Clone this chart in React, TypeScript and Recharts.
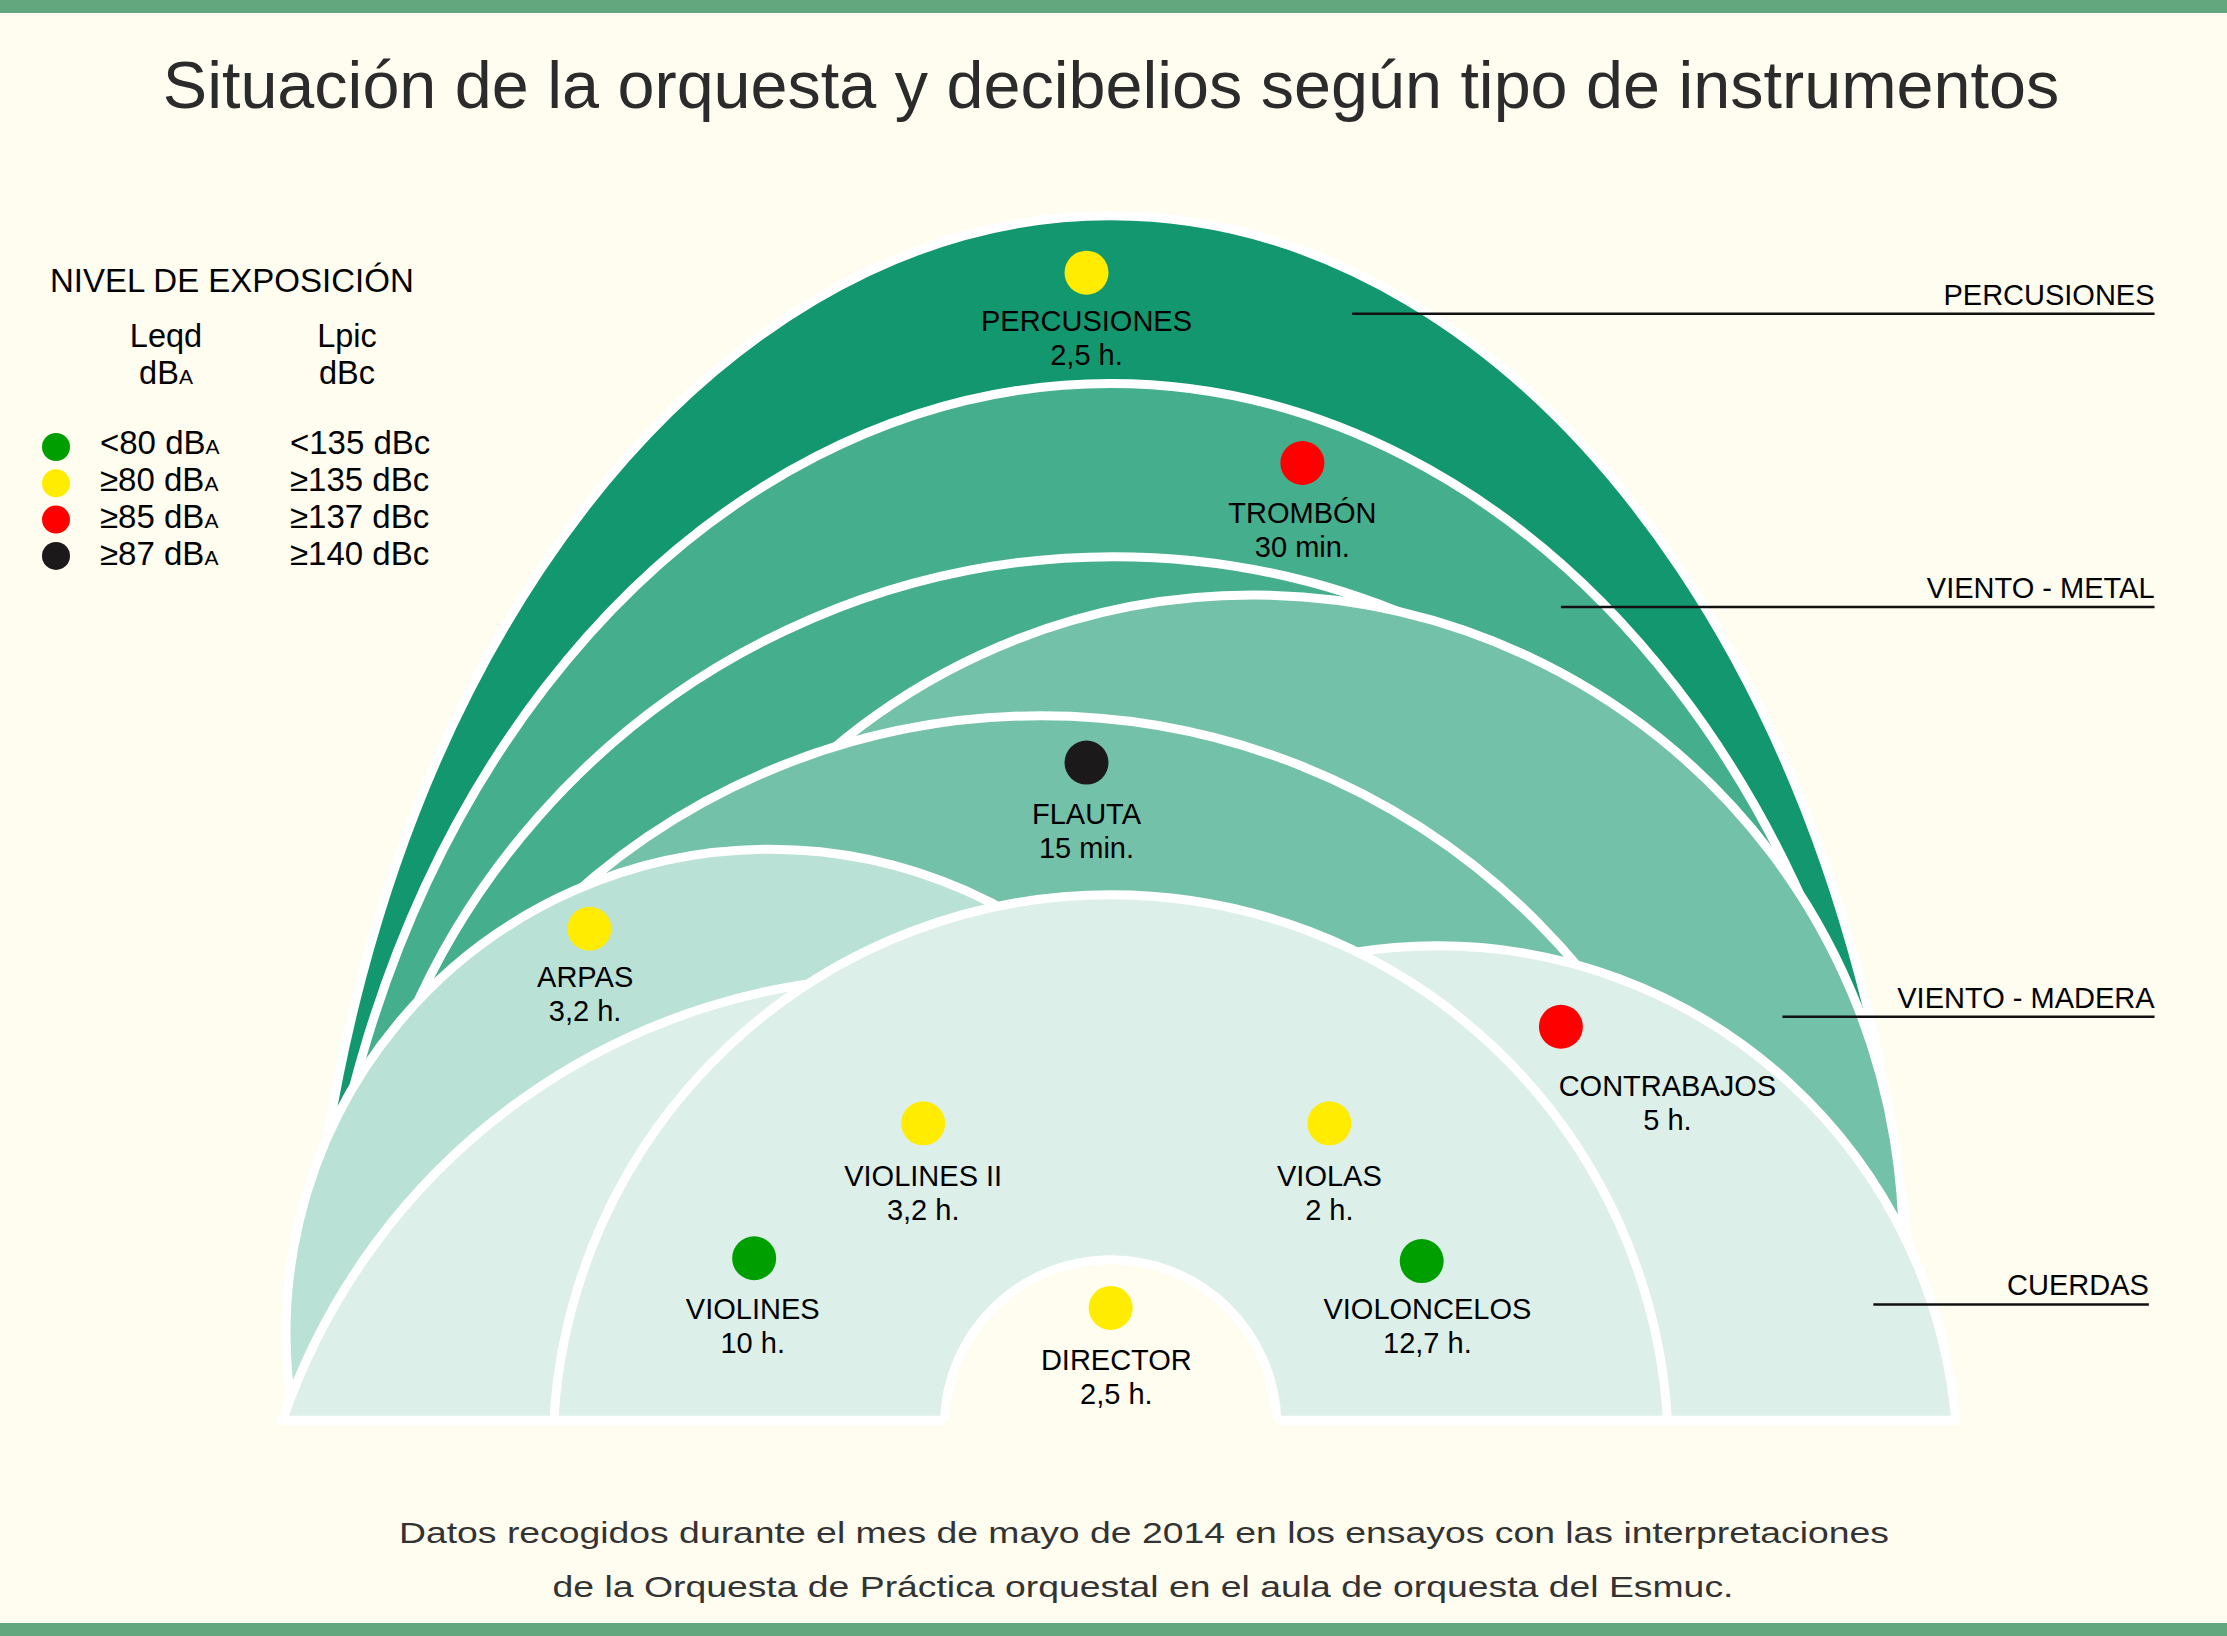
import React from 'react'
import { ScatterChart, Scatter, XAxis, YAxis, ReferenceArea, ReferenceLine } from 'recharts'

const W = 2227
const H = 1636
const FONT = '"Liberation Sans", Arial, Helvetica, sans-serif'
const CREAM = '#fffdef'
const STRIPE = '#62a77d'

// stage layout units: x 0..1568, y 0..1152 (downwards), floor of the stage at y = 1000
const STAGE_W = 1568
const STAGE_H = 1152
const FLOOR = 1000

// exposure levels
const levelColors = ['#009f00', '#ffec00', '#ff0000', '#1c191b']
const levelLeq = ['<80', '≥80', '≥85', '≥87']
const levelLpic = ['<135 dBc', '≥135 dBc', '≥137 dBc', '≥140 dBc']

// instruments (seat = dot, tag = centre of the first label line)
const instruments = ['PERCUSIONES', 'TROMBÓN', 'FLAUTA', 'ARPAS', 'CONTRABAJOS', 'VIOLINES II', 'VIOLAS', 'VIOLINES', 'VIOLONCELOS', 'DIRECTOR']
const exposure = ['2,5 h.', '30 min.', '15 min.', '3,2 h.', '5 h.', '3,2 h.', '2 h.', '10 h.', '12,7 h.', '2,5 h.']
const level = [1, 2, 3, 1, 2, 1, 1, 0, 0, 1]
const seatX = [765, 917, 765, 415, 1099, 650, 936, 531, 1001, 782]
const seatY = [192, 326, 537, 654, 723, 791, 791, 886, 888, 921]
const tagX = [765, 917, 765, 412, 1174, 650, 936, 530, 1005, 786]
const tagY = [226, 361, 573, 688, 765, 828, 828, 922, 922, 958]

// sections of the stage, back to front
const archNames = ['percusiones', 'metal', 'metal-2', 'madera', 'flauta', 'arpas', 'cuerdas-izq', 'cuerdas-der', 'cuerdas', 'director']
const archCenter = [782, 782, 784, 882, 733, 542, 636, 1012, 782, 782]
const archHalfWidth = [567, 563, 535, 441, 493, 335, 437, 365, 392, 117]
const archHeight = [848, 730, 608, 581, 496, 402, 312, 334, 370, 113]
const archAspect = [1.495, 1.297, 1, 1, 1, 1, 1, 1, 1, 1]
const archTone = [0, 1, 1, 2, 2, 3, 4, 4, 4, 5]
const tones = ['#13976f', '#45ae8d', '#73c1a8', '#b9e1d6', '#dcf0e9', CREAM]

// section names on the right
const groups = ['PERCUSIONES', 'VIENTO - METAL', 'VIENTO - MADERA', 'CUERDAS']
const groupY = [221, 427.5, 716, 918.5]
const groupFrom = [952, 1099, 1255, 1319]
const groupTo = [1517, 1517, 1517, 1513]

const arcPath = (x: number, y: number, width: number, height: number, k: number) => {
  const w = width / 2
  const h = height
  const rx = (w * w * k * k + h * h) / (2 * k * h)
  const ry = k * rx
  const large = h > ry ? 1 : 0
  const base = y + height
  return { d: `M${x},${base} A${rx},${ry} 0 ${large} 1 ${x + width},${base}`, rx, ry, large, base }
}

const Arch = (props: any) => {
  const { x, y, width, height, k, fill, podium } = props
  if (x == null || width == null) return null
  const a = arcPath(x, y, width, height, k)
  if (podium) {
    const fillD = `M${x},${a.base + 6} L${x},${a.base} A${a.rx},${a.ry} 0 ${a.large} 1 ${x + width},${a.base} L${x + width},${a.base + 6} Z`
    return (
      <g>
        <path d={fillD} fill={fill} stroke="none" />
        <path d={a.d} fill="none" stroke="#ffffff" strokeWidth={9} />
      </g>
    )
  }
  return <path d={a.d + ' Z'} fill={fill} fillOpacity={1} stroke="#ffffff" strokeWidth={9} />
}

export default function App() {
  const seats = instruments.map((name, i) => ({ x: seatX[i], y: seatY[i], name, color: levelColors[level[i]] }))
  const tags = instruments.map((name, i) => ({ x: tagX[i], y: tagY[i], name, time: exposure[i] }))
  const groupTags = groups.map((name, i) => ({ x: groupTo[i], y: groupY[i], name }))

  return (
    <div style={{ position: 'absolute', left: 0, top: 0, width: W, height: H, background: CREAM, fontFamily: FONT, overflow: 'hidden' }}>
      <div style={{ position: 'absolute', left: 0, top: 0, width: W, height: 13, background: STRIPE }} />
      <div style={{ position: 'absolute', left: 0, top: H - 13, width: W, height: 13, background: STRIPE }} />
      <div style={{ position: 'absolute', left: 0, top: 0 }}>
        <ScatterChart width={W} height={H} margin={{ top: 0, right: 0, bottom: 0, left: 0 }}>
          <XAxis type="number" dataKey="x" domain={[0, STAGE_W]} hide />
          <YAxis type="number" dataKey="y" domain={[0, STAGE_H]} reversed hide />
          {archNames.map((n, i) => (
            <ReferenceArea
              key={n}
              x1={archCenter[i] - archHalfWidth[i]}
              x2={archCenter[i] + archHalfWidth[i]}
              y1={FLOOR}
              y2={FLOOR - archHeight[i]}
              shape={(p: any) => <Arch {...p} k={archAspect[i]} fill={tones[archTone[i]]} podium={n === 'director'} />}
            />
          ))}
          {groups.map((g, i) => (
            <ReferenceLine
              key={g}
              segment={[{ x: groupFrom[i], y: groupY[i] }, { x: groupTo[i], y: groupY[i] }]}
              stroke="#111111"
              strokeWidth={2.5}
            />
          ))}
          <Scatter
            data={groupTags}
            isAnimationActive={false}
            shape={(p: any) => (
              <text x={p.cx} y={p.cy - 9} textAnchor="end" fontSize={29} fontFamily={FONT} fill="#000000">
                {p.payload.name}
              </text>
            )}
          />
          <Scatter
            data={seats}
            isAnimationActive={false}
            shape={(p: any) => <circle cx={p.cx} cy={p.cy} r={22} fill={p.payload.color} />}
          />
          <Scatter
            data={tags}
            isAnimationActive={false}
            shape={(p: any) => (
              <g>
                <text x={p.cx} y={p.cy + 10} textAnchor="middle" fontSize={29} fontFamily={FONT} fill="#000000">
                  {p.payload.name}
                </text>
                <text x={p.cx} y={p.cy + 44} textAnchor="middle" fontSize={29} fontFamily={FONT} fill="#000000">
                  {p.payload.time}
                </text>
              </g>
            )}
          />
        </ScatterChart>
      </div>
      <svg width={W} height={H} style={{ position: 'absolute', left: 0, top: 0, pointerEvents: 'none' }} fontFamily={FONT}>
        <text x={1111} y={108} textAnchor="middle" fontSize={66.5} fill="#2b2b2b">
          Situación de la orquesta y decibelios según tipo de instrumentos
        </text>
        <text x={50} y={292} fontSize={33} fill="#000000">NIVEL DE EXPOSICIÓN</text>
        <text x={166} y={347} textAnchor="middle" fontSize={32.5} fill="#000000">Leqd</text>
        <text x={166} y={384} textAnchor="middle" fontSize={32.5} fill="#000000">
          dB<tspan fontSize={21}>A</tspan>
        </text>
        <text x={347} y={347} textAnchor="middle" fontSize={32.5} fill="#000000">Lpic</text>
        <text x={347} y={384} textAnchor="middle" fontSize={32.5} fill="#000000">dBc</text>
        {levelColors.map((c, i) => (
          <g key={c}>
            <circle cx={56} cy={447 + 36.3 * i} r={14} fill={c} />
            <text x={100} y={453.5 + 37 * i} fontSize={33} fill="#000000">
              {levelLeq[i]} dB<tspan fontSize={21}>A</tspan>
            </text>
            <text x={290} y={453.5 + 37 * i} fontSize={33} fill="#000000">{levelLpic[i]}</text>
          </g>
        ))}
        <g transform="translate(1144,1543) scale(1.245,1)">
          <text x={0} y={0} textAnchor="middle" fontSize={30} fill="#333333">
            Datos recogidos durante el mes de mayo de 2014 en los ensayos con las interpretaciones
          </text>
        </g>
        <g transform="translate(1143,1597) scale(1.245,1)">
          <text x={0} y={0} textAnchor="middle" fontSize={30} fill="#333333">
            de la Orquesta de Práctica orquestal en el aula de orquesta del Esmuc.
          </text>
        </g>
      </svg>
    </div>
  )
}
